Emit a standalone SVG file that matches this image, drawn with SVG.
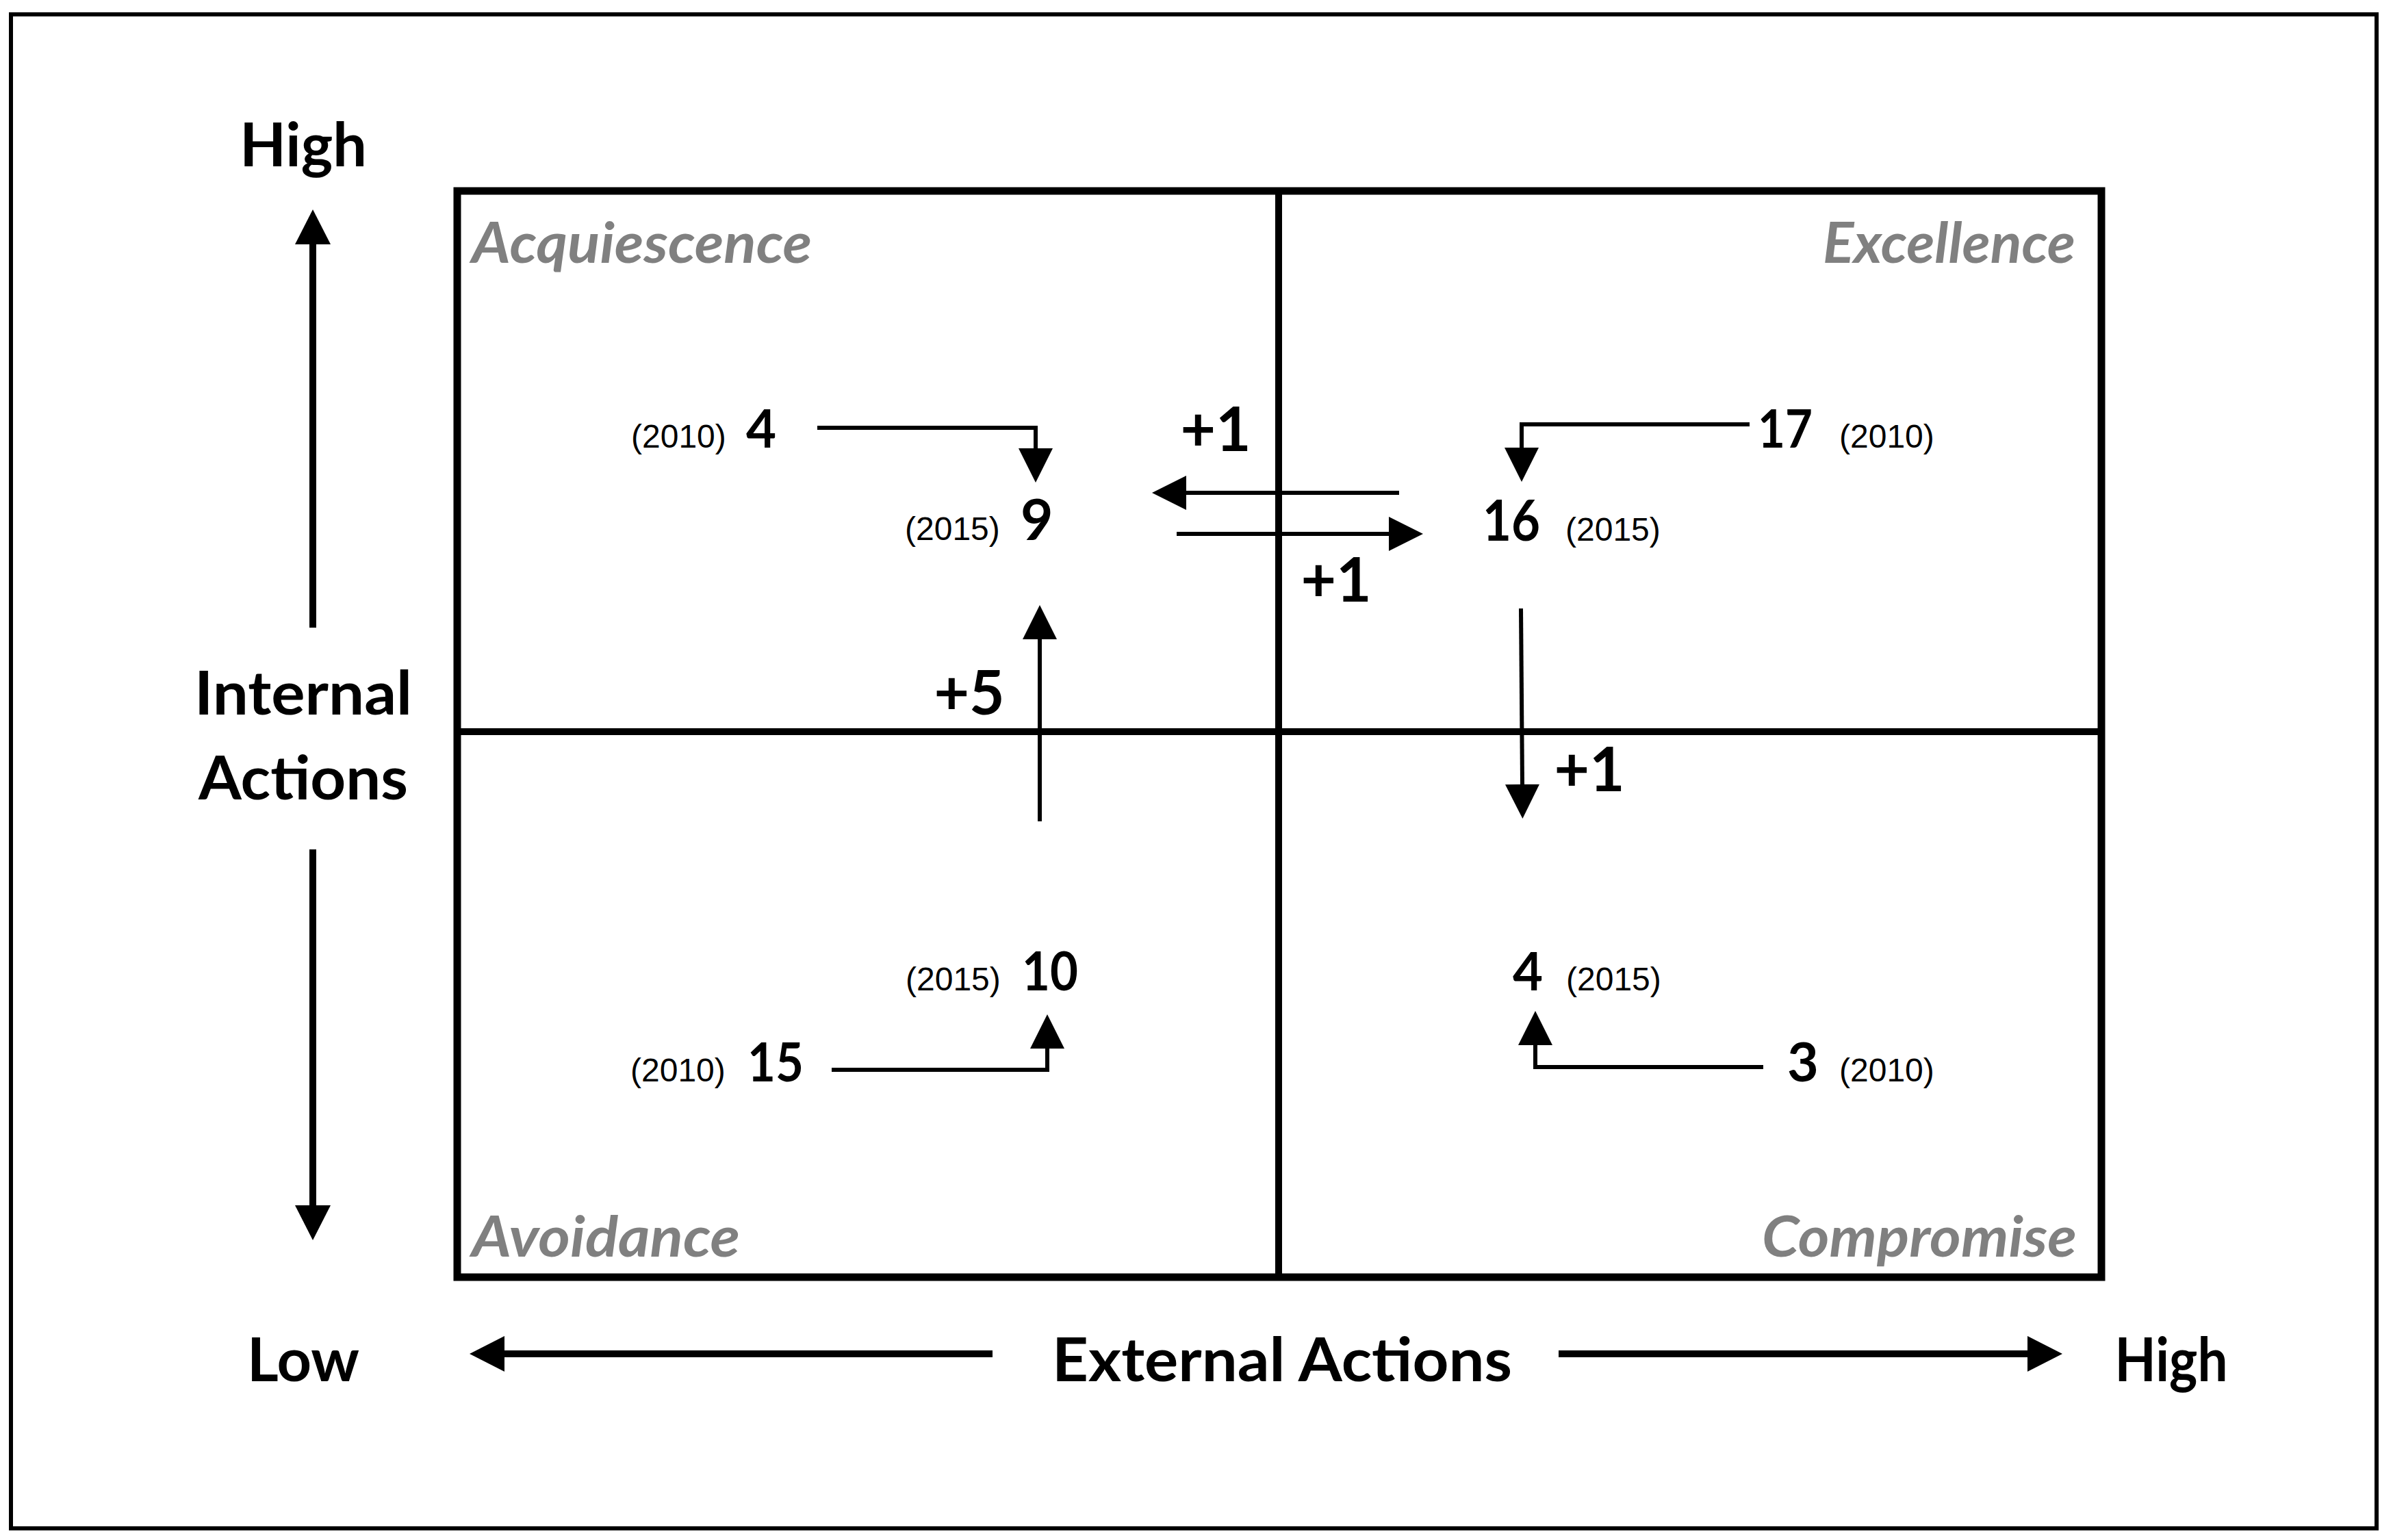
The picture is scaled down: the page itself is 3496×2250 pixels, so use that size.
<svg xmlns="http://www.w3.org/2000/svg" width="3496" height="2250" viewBox="0 0 3496 2250">
<style>
.frame{fill:none;stroke:#000;stroke-width:6}
.box{fill:none;stroke:#000;stroke-width:11}
.mid{stroke:#000;stroke-width:10}
.conn{fill:none;stroke:#000;stroke-width:6}
.axis{fill:none;stroke:#000;stroke-width:10}
.lbl{font-family:Lato,"Open Sans","Liberation Sans",sans-serif;font-weight:bold;fill:#000}
.quad{font-family:Lato,"Open Sans","Liberation Sans",sans-serif;font-weight:bold;font-style:italic;fill:#808080;font-size:82px}
.yr{font-family:"Liberation Sans",Arial,sans-serif;font-size:48px;fill:#000}
.n10{font-family:Lato,"Open Sans","Liberation Sans",sans-serif;font-weight:bold;font-size:76px;fill:#000}
.n15{font-family:Lato,"Open Sans","Liberation Sans",sans-serif;font-weight:bold;font-size:82px;fill:#000}
.delta{font-family:Lato,"Open Sans","Liberation Sans",sans-serif;font-weight:bold;font-size:89px;fill:#000;text-anchor:middle}
.ax{font-size:88px;text-anchor:middle}
</style>
<defs>
<marker id="head" markerUnits="userSpaceOnUse" markerWidth="52" markerHeight="52" refX="0" refY="25" orient="auto">
<path d="M0,0 L50,25 L0,50 Z" fill="#000"/>
</marker>
<marker id="axhead" markerUnits="userSpaceOnUse" markerWidth="54" markerHeight="54" refX="0" refY="26" orient="auto">
<path d="M0,0 L51,26 L0,52 Z" fill="#000"/>
</marker>
</defs>
<rect width="3496" height="2250" fill="#fff"/>
<rect class="frame" x="16" y="21" width="3456" height="2212"/>

<g id="matrix">
<rect class="box" x="668" y="279" width="2402" height="1587"/>
<line class="mid" x1="1868" y1="279" x2="1868" y2="1866"/>
<line class="mid" x1="668" y1="1069" x2="3070" y2="1069"/>
</g>

<g id="quadrant-labels">
<text id="q-acquiescence" class="quad" x="689" y="384" textLength="497" lengthAdjust="spacingAndGlyphs">Acquiescence</text>
<text id="q-excellence" class="quad" x="2663" y="384" textLength="369" lengthAdjust="spacingAndGlyphs">Excellence</text>
<text id="q-avoidance" class="quad" x="689" y="1836" textLength="392" lengthAdjust="spacingAndGlyphs">Avoidance</text>
<text id="q-compromise" class="quad" x="2574" y="1836" textLength="460" lengthAdjust="spacingAndGlyphs">Compromise</text>
</g>

<g id="axis-labels">
<text id="y-high" class="lbl ax" x="443" y="243">High</text>
<text id="y-title" class="lbl ax" x="443" y="1044" textLength="318" lengthAdjust="spacingAndGlyphs">Internal</text>
<text id="y-title-2" class="lbl ax" x="443" y="1168" textLength="306" lengthAdjust="spacingAndGlyphs">Actions</text>
<text id="x-low" class="lbl ax" x="443" y="2018" textLength="164" lengthAdjust="spacingAndGlyphs">Low</text>
<text id="x-title" class="lbl ax" x="1873" y="2018" textLength="672" lengthAdjust="spacingAndGlyphs">External Actions</text>
<text id="x-high" class="lbl ax" x="3172" y="2018" textLength="165" lengthAdjust="spacingAndGlyphs">High</text>
</g>

<g id="axis-arrows">
<line class="axis" x1="457" y1="917" x2="457" y2="357" marker-end="url(#axhead)"/>
<line class="axis" x1="457" y1="1241" x2="457" y2="1761" marker-end="url(#axhead)"/>
<line class="axis" x1="1450" y1="1978" x2="737" y2="1978" marker-end="url(#axhead)"/>
<line class="axis" x1="2277" y1="1978" x2="2962" y2="1978" marker-end="url(#axhead)"/>
</g>

<g id="acq-2010"><text class="yr" x="922" y="654">(2010)</text><text class="n10" x="1090" y="654">4</text></g>
<g id="acq-2015"><text class="yr" x="1322" y="789">(2015)</text><text class="n15" x="1491" y="789">9</text></g>
<g id="exc-2010"><text class="n10" x="2568" y="654" textLength="80" lengthAdjust="spacingAndGlyphs">17</text><text class="yr" x="2687" y="654">(2010)</text></g>
<g id="exc-2015"><text class="n15" x="2166" y="790" textLength="84" lengthAdjust="spacingAndGlyphs">16</text><text class="yr" x="2287" y="790">(2015)</text></g>
<g id="avo-2015"><text class="yr" x="1323" y="1447">(2015)</text><text class="n10" x="1493" y="1447" style="font-size:79px" textLength="82" lengthAdjust="spacingAndGlyphs">10</text></g>
<g id="avo-2010"><text class="yr" x="921" y="1580">(2010)</text><text class="n10" x="1092" y="1580" style="font-size:79px" textLength="82" lengthAdjust="spacingAndGlyphs">15</text></g>
<g id="com-2015"><text class="n10" x="2210" y="1447">4</text><text class="yr" x="2288" y="1447">(2015)</text></g>
<g id="com-2010"><text class="n10" x="2611" y="1580" style="font-size:79px">3</text><text class="yr" x="2687" y="1580">(2010)</text></g>

<g id="connectors">
<polyline class="conn" points="1194,625 1513,625 1513,655" marker-end="url(#head)"/>
<line class="conn" x1="2044" y1="720" x2="1733" y2="720" marker-end="url(#head)"/>
<line class="conn" x1="1719" y1="780" x2="2029" y2="780" marker-end="url(#head)"/>
<polyline class="conn" points="2556,620 2223,620 2223,654" marker-end="url(#head)"/>
<line class="conn" x1="2222" y1="889" x2="2224" y2="1146" marker-end="url(#head)"/>
<polyline class="conn" points="1215,1563 1530,1563 1530,1532" marker-end="url(#head)"/>
<polyline class="conn" points="2576,1559 2243,1559 2243,1527" marker-end="url(#head)"/>
<line class="conn" x1="1519" y1="1200" x2="1519" y2="934" marker-end="url(#head)"/>
<text class="delta" x="1776" y="659">+1</text>
<text class="delta" x="1952" y="879">+1</text>
<text class="delta" x="2322" y="1156">+1</text>
<text class="delta" x="1416" y="1044">+5</text>
</g>
</svg>
